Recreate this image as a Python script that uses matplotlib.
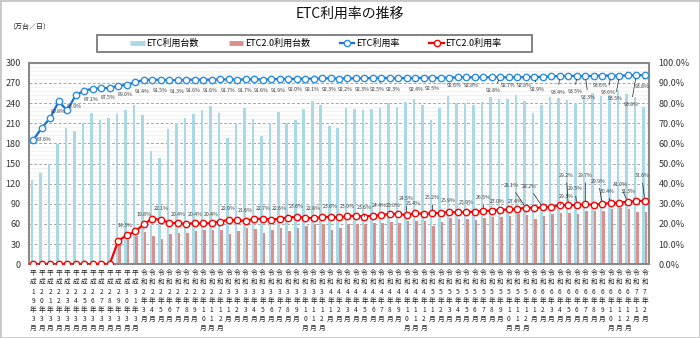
import matplotlib
matplotlib.use('Agg')
import matplotlib.pyplot as plt
from matplotlib.lines import Line2D
from matplotlib.patches import Rectangle
from matplotlib.ticker import FuncFormatter
import numpy as np

plt.rcParams['font.family'] = ['Noto Sans CJK JP', 'DejaVu Sans']

categories = [
    '平成19年3月', '平成20年3月', '平成21年3月', '平成22年3月', '平成23年3月',
    '平成24年3月', '平成25年3月', '平成26年3月', '平成27年3月', '平成28年3月',
    '平成29年3月', '平成30年3月', '平成31年3月',
    '令和2年3月', '令和2年4月', '令和2年5月', '令和2年6月', '令和2年7月', '令和2年8月',
    '令和2年9月', '令和2年10月', '令和2年11月', '令和2年12月',
    '令和3年1月', '令和3年2月', '令和3年3月', '令和3年4月', '令和3年5月', '令和3年6月',
    '令和3年7月', '令和3年8月', '令和3年9月', '令和3年10月', '令和3年11月', '令和3年12月',
    '令和4年1月', '令和4年2月', '令和4年3月', '令和4年4月', '令和4年5月', '令和4年6月',
    '令和4年7月', '令和4年8月', '令和4年9月', '令和4年10月', '令和4年11月', '令和4年12月',
    '令和5年1月', '令和5年2月', '令和5年3月', '令和5年4月', '令和5年5月', '令和5年6月',
    '令和5年7月', '令和5年8月', '令和5年9月', '令和5年10月', '令和5年11月', '令和5年12月',
    '令和6年1月', '令和6年2月', '令和6年3月', '令和6年4月', '令和6年5月', '令和6年6月',
    '令和6年7月', '令和6年8月', '令和6年9月', '令和6年10月', '令和6年11月', '令和6年12月',
    '令和7年1月', '令和7年2月',
]

# ETC利用台数 (万台/日)
etc_count = [
    125.5, 136, 150, 179, 203, 198, 210, 225, 214, 218, 224, 229, 236.5,
    222, 169, 158, 202, 210, 217, 224, 230, 235.5, 225.5,
    188, 210, 232, 216, 191.5, 210, 226, 210, 215, 231, 243.5, 236.5,
    206, 203, 232, 230.5, 229.5, 230.5, 232, 240.5, 233.5, 242, 246.5, 236.5,
    215, 232.5, 251, 240.5, 240, 237, 242, 249.5, 246.5, 246.5, 252.5, 243.5,
    224.5, 236.5, 249.5, 247, 244.5, 240, 247, 255, 250, 252, 260, 254,
    249, 234.5,
]

# ETC2.0利用台数 (万台/日)
etc20_count = [
    0, 0, 0, 0, 0, 0, 0, 0, 0, 0, 31, 36, 42.5,
    47.5, 42, 37, 45, 46, 47, 49.5, 51, 51.5, 50.5,
    44.5, 49.5, 54.5, 52.5, 47, 51, 54.5, 49.5, 54.5, 57, 59.5, 60,
    51, 53.5, 60, 60, 59.5, 61, 61, 63, 62, 65, 65, 64,
    57.5, 63.5, 68.5, 67, 67, 66, 68.5, 70, 71, 72, 75, 73.5,
    67, 72, 75, 77, 76, 75, 79, 80, 80, 82, 84, 82,
    78, 77.5,
]

# ETC利用率 (%)
etc_rate = [
    61.7, 67.6, 72.6, 80.8, 76.3, 83.9, 86.1, 87.1, 87.3, 87.5, 88.5, 89.0, 90.3,
    91.4, 91.6, 91.5, 91.4, 91.3, 91.5, 91.6, 91.5, 91.6, 91.7,
    91.7, 91.6, 91.7, 91.8, 91.6, 91.8, 91.9, 92.0, 92.0, 92.1, 92.1, 92.2,
    92.3, 92.1, 92.2, 92.3, 92.3, 92.4, 92.5, 92.4, 92.3, 92.4, 92.4, 92.5,
    92.5, 92.5, 92.6, 92.7, 92.8, 92.7, 92.7, 92.8, 92.8, 92.7, 92.8, 92.8,
    92.9, 93.0, 93.2, 93.4, 93.4, 93.5, 93.3, 93.5, 93.6, 93.6, 93.5, 93.7,
    93.8, 93.8,
]

# ETC2.0利用率 (%)
etc20_rate = [
    0, 0, 0, 0, 0, 0, 0, 0, 0, 0, 11.7, 14.3, 16.3,
    19.8, 22.6, 22.1, 20.6, 20.4, 20.1, 20.4, 20.3, 20.4, 21.2,
    22.0, 21.8, 21.6, 22.4, 22.7, 22.2, 22.6, 23.2, 23.6, 23.1, 22.8, 23.4,
    23.6, 23.3, 23.9, 24.1, 23.6, 24.2, 24.4, 25.0, 24.8, 24.5, 25.4, 25.0,
    25.2, 25.6, 25.9, 25.7, 25.9, 26.1, 26.5, 26.6, 27.0, 27.2, 27.4, 28.1,
    28.0, 28.2, 28.6, 29.3, 29.2, 29.5, 29.7, 29.6, 29.9, 30.4, 30.6, 31.0,
    31.3, 31.6,
]

left_ticks = [0, 30, 60, 90, 120, 150, 180, 210, 240, 270, 300]
right_ticks = [0, 10, 20, 30, 40, 50, 60, 70, 80, 90, 100]

# label layout: (index, dx px, dy px, leader line)
blue_label_layout = [(1, 2, -11, False), (3, -1, -10, False), (5, -2, -11, False),
                     (7, -2, -11, False), (9, -2, -10, False), (11, -2, -10, False),
                     (13, -2, -11, False)]
blue_label_layout += [(i, -1, -11, False) for i in range(15, 36, 2)]
blue_label_layout += [(37, -2, -11, True), (39, -2, -11, False), (41, -4, -12, True),
                      (43, -5, -11, False), (45, 1, -11, True), (47, 0, -11, False),
                      (49, 5, -8, False), (51, 5, -8, False), (55, -7, -13, True),
                      (56, -1, -8, False), (58, -2, -8, False), (59, 3, -12, True),
                      (62, -2, -16, True), (64, -2, -16, True), (65, 3, -21, True),
                      (67, -2, -10, False), (68, -3, -17, True), (69, -4, -23, True),
                      (71, -5, -29, True), (72, -3, -11, True)]

red_label_layout = [(11, -2, 10, False), (13, 0, 10, False), (15, 0, 11, False),
                    (17, 0, 9, False), (19, 0, 9, False), (21, 0, 9, False),
                    (23, 0, 11, False)]
red_label_layout += [(i, 0, 10, False) for i in range(25, 38, 2)]
red_label_layout += [(39, 0, 9, True), (41, -2, 10, False), (42, 3, 8, False),
                     (44, -1, 16, True), (45, -2, 10, False), (47, 0, 16, True),
                     (49, -1, 12, False), (51, 0, 10, False), (53, 0, 13, True),
                     (55, -3, 8, False), (57, -2, 8, False), (58, -15, 22, True),
                     (60, -14, 21, True), (62, 6, 9, True), (63, -2, 30, True),
                     (64, -2, 16, True), (65, 0, 29, True), (67, -4, 23, True),
                     (68, -4, 12, True), (70, -8, 17, True), (71, -8, 10, True),
                     (72, -3, 25, True)]

BAR_BLUE = '#a9d9e6'
BAR_RED = '#d9908e'
LINE_BLUE = '#1c6fd0'
MARK_BLUE = '#2f8de0'
LINE_RED = '#ff0000'
FRAME = '#8a8a8a'

W, H = 700, 338
fig = plt.figure(figsize=(W / 100, H / 100), dpi=100)
fig.patch.set_facecolor('white')

ax = fig.add_axes([29 / W, (H - 264.3) / H, 620 / W, 201.6 / H])
x = np.arange(len(categories))

ax.bar(x - 0.15, etc_count, width=0.3, color=BAR_BLUE, zorder=2, linewidth=0)
ax.bar(x + 0.15, etc20_count, width=0.3, color=BAR_RED, zorder=2, linewidth=0)
ax.set_xlim(-0.5, len(categories) - 0.5)
ax.set_ylim(0, 300)
ax.set_yticks(left_ticks)
ax.set_yticks(np.arange(0, 301, 6), minor=True)
ax.grid(axis='y', which='minor', color='#ededed', linewidth=0.5, zorder=0)
ax.grid(axis='y', which='major', color='#a6a6a6', linewidth=0.7,
        linestyle=(0, (3, 2)), zorder=1)
ax.set_axisbelow(True)
ax.set_xticks(x)
ax.set_xticklabels(['\n'.join(list(c)) for c in categories],
                   fontsize=4.8, linespacing=1.2, va='top')
ax.tick_params(axis='x', length=0, pad=3.5, colors='#222222')
ax.tick_params(axis='y', which='both', length=0, pad=6, labelsize=6.5, colors='#333333')
for s in ax.spines.values():
    s.set_color(FRAME)
    s.set_linewidth(1.5)

ax2 = ax.twinx()
ax2.set_ylim(0, 100)
ax2.set_yticks(right_ticks)
ax2.yaxis.set_major_formatter(FuncFormatter(lambda v, p: f'{v:.1f}%'))
ax2.tick_params(axis='y', length=0, pad=7, labelsize=6.5, colors='#333333')
for s in ax2.spines.values():
    s.set_visible(False)

ax2.plot(x, etc_rate, color=LINE_BLUE, lw=1.6, marker='o', ms=4.6,
         mfc='white', mec=MARK_BLUE, mew=1.0, zorder=4)
ax2.plot(x, etc20_rate, color=LINE_RED, lw=1.6, marker='o', ms=4.6,
         mfc='white', mec=LINE_RED, mew=1.0, zorder=4)

def add_labels(values, layout):
    for i, dx, dy, leader in layout:
        kw = dict(textcoords='offset pixels', ha='center', va='center',
                  fontsize=3.7, color='#3a3a3a', zorder=6)
        if leader:
            kw['arrowprops'] = dict(arrowstyle='-', lw=0.5, color='#222222',
                                    shrinkA=1.5, shrinkB=2.5)
        ax2.annotate(f'{values[i]:.1f}%', xy=(x[i], values[i]), xytext=(dx, dy), **kw)

add_labels(etc_rate, blue_label_layout)
add_labels(etc20_rate, red_label_layout)

# title and unit
fig.text(349.5 / W, 1 - 14 / H, 'ETC利用率の推移', ha='center', va='center',
         fontsize=10, color='#111111')
fig.text(8 / W, 1 - 27 / H, '（万台／日）', ha='left', va='center',
         fontsize=5, color='#222222')

# legend
fig.patches.append(Rectangle((97 / W, (H - 51.7) / H), 435 / W, 16.7 / H,
                             transform=fig.transFigure, fill=False,
                             edgecolor='#7a7a7a', linewidth=1.3))
handles = [
    Line2D([], [], color=BAR_BLUE, lw=3.5, solid_capstyle='butt'),
    Line2D([], [], color=BAR_RED, lw=3.5, solid_capstyle='butt'),
    Line2D([], [], color=LINE_BLUE, lw=1.6, marker='o', ms=4.5, mfc='white',
           mec=MARK_BLUE, mew=1.0),
    Line2D([], [], color=LINE_RED, lw=1.6, marker='o', ms=4.5, mfc='white',
           mec=LINE_RED, mew=1.0),
]
labels = ['ETC利用台数', 'ETC2.0利用台数', 'ETC利用率', 'ETC2.0利用率']
fig.legend(handles, labels, loc='center', bbox_to_anchor=(316 / W, 1 - 43.3 / H),
           ncol=4, frameon=False, fontsize=6.5, handlelength=1.6,
           handletextpad=0.2, columnspacing=3.3, borderpad=0)

# outer border
fig.patches.append(Rectangle((0, 0), 1, 1, transform=fig.transFigure, fill=False,
                             edgecolor='#c8c8c8', linewidth=2))

fig.savefig('out.png', dpi=100)
